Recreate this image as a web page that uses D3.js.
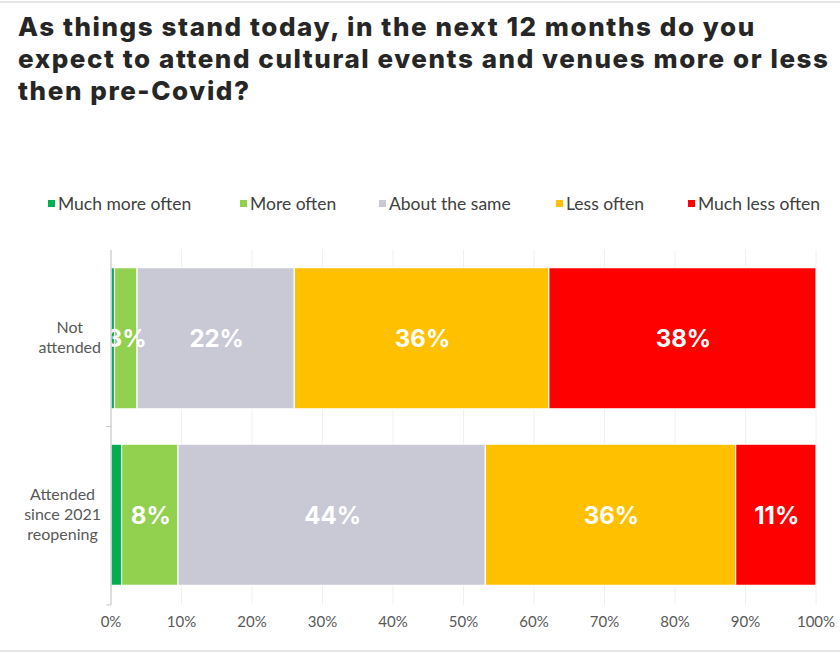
<!DOCTYPE html>
<html><head><meta charset="utf-8">
<script src="https://cdn.jsdelivr.net/npm/d3@7"></script>
<style>body{margin:0;background:#fff;}svg{display:block;}</style>
</head><body>
<svg id="c" width="840" height="660"></svg>
<script>
const titleLines = ["As things stand today, in the next 12 months do you","expect to attend cultural events and venues more or less","then pre-Covid?"];
const categories = [["Not","attended"],["Attended","since 2021","reopening"]];
const categoryKeys = ["Not attended","Attended since 2021 reopening"];
const seriesNames = ["Much more often","More often","About the same","Less often","Much less often"];
const seriesColors = ["#00B050","#92D050","#C9C9D6","#FFC000","#FF0000"];
const muchMore = [0.5, 1.5];
const more = [3.2, 8.0];
const same = [22.3, 43.6];
const less = [36.1, 35.5];
const muchLess = [37.9, 11.4];
const dataLabels = [["","3%","22%","36%","38%"],["","8%","44%","36%","11%"]];
const tickValues = [0,10,20,30,40,50,60,70,80,90,100];

const FONT = "Lato, 'Open Sans', sans-serif";
const BOLDFONT = "Inter, 'Open Sans', sans-serif";
const svg = d3.select("#c");
const series = [muchMore, more, same, less, muchLess];

// frame lines
svg.append("line").attr("x1",0).attr("x2",840).attr("y1",2).attr("y2",2).attr("stroke","#e6e6e6").attr("stroke-width",2);
svg.append("line").attr("x1",0).attr("x2",840).attr("y1",651).attr("y2",651).attr("stroke","#e6e6e6").attr("stroke-width",2);

// title
const tl = svg.append("g").selectAll("text").data(titleLines).join("text")
  .attr("x",18).attr("y",(d,i)=>36+i*32)
  .attr("font-family",BOLDFONT).attr("font-weight",800)
  .attr("font-size",26).attr("fill","#262626").text(d=>d);
const n2 = tl.nodes()[1];
const w2 = n2.getComputedTextLength();
const ls = (810 - w2) / (titleLines[1].length - 1);
tl.attr("letter-spacing", ls);

const x = d3.scaleLinear().domain([0,100]).range([111,816]);
const y = d3.scaleBand().domain(categoryKeys).range([250,603]).paddingInner(0.2).paddingOuter(0.1);

// gridlines
svg.append("g").selectAll("line").data(tickValues.slice(1)).join("line")
  .attr("x1",d=>x(d)).attr("x2",d=>x(d)).attr("y1",250).attr("y2",605)
  .attr("stroke","#f0f0f0").attr("stroke-width",1);

// stacked data
const rows = categoryKeys.map((k,i)=>{const o={key:k}; seriesNames.forEach((s,j)=>o[s]=series[j][i]); return o;});
const stack = d3.stack().keys(seriesNames)(rows);

svg.append("clipPath").attr("id","plotclip").append("rect")
  .attr("x",x(0)).attr("y",240).attr("width",x(100)-x(0)+2).attr("height",380);

const gBars = svg.append("g");
stack.forEach((layer,j)=>{
  gBars.append("g").selectAll("rect").data(layer).join("rect")
    .attr("x",d=>x(d[0])).attr("width",d=>x(d[1])-x(d[0]))
    .attr("y",d=>y(d.data.key)).attr("height",y.bandwidth())
    .attr("fill",seriesColors[j]).attr("stroke","#fff").attr("stroke-width",1.2);
});
const gLab = svg.append("g").attr("clip-path","url(#plotclip)");
stack.forEach((layer,j)=>{
  gLab.append("g").selectAll("text").data(layer).join("text")
    .attr("x",d=>(x(d[0])+x(d[1]))/2+1).attr("y",d=>y(d.data.key)+y.bandwidth()/2+9)
    .attr("text-anchor","middle").attr("font-family",BOLDFONT)
    .attr("font-weight",700).attr("font-size",24).attr("fill","#fff")
    .text((d,i)=>dataLabels[i][j]);
});

// y axis line + ticks
svg.append("line").attr("x1",111).attr("x2",111).attr("y1",250).attr("y2",605).attr("stroke","#c8c8c8").attr("stroke-width",1.2);
const bounds = [y(categoryKeys[1]) - y.step()*y.paddingInner()/2, 605];
svg.append("g").selectAll("line").data(bounds).join("line")
  .attr("x1",106).attr("x2",111).attr("y1",d=>d).attr("y2",d=>d).attr("stroke","#c8c8c8");

// category labels
categories.forEach((lines,i)=>{
  const cy = y(categoryKeys[i]) + y.bandwidth()/2;
  const t = svg.append("text").attr("text-anchor","middle").attr("font-family",FONT)
    .attr("font-size",16).attr("fill","#595959");
  const lh = 20;
  const sp = lines.map((l,k)=>t.append("tspan").attr("y",cy + (k-(lines.length-1)/2)*lh + 5).text(l));
  const maxW = d3.max(sp, s=>s.node().getComputedTextLength());
  sp.forEach(s=>s.attr("x",101 - maxW/2));
});

// x axis labels
svg.append("g").selectAll("text").data(tickValues).join("text")
  .attr("x",d=>x(d)).attr("y",627).attr("text-anchor","middle")
  .attr("font-family",FONT).attr("font-size",15).attr("fill","#595959")
  .text(d=>d+"%");

// legend
const legendX = [48,240,379,556,688];
const lg = svg.append("g").selectAll("g").data(seriesNames).join("g")
  .attr("transform",(d,i)=>`translate(${legendX[i]},204)`);
lg.append("rect").attr("x",0).attr("y",-4).attr("width",7).attr("height",7).attr("fill",(d,i)=>seriesColors[i]);
lg.append("text").attr("x",10).attr("y",6).attr("font-family",FONT)
  .attr("font-size",17.5).attr("fill","#404040").text(d=>d);
</script>
</body></html>
